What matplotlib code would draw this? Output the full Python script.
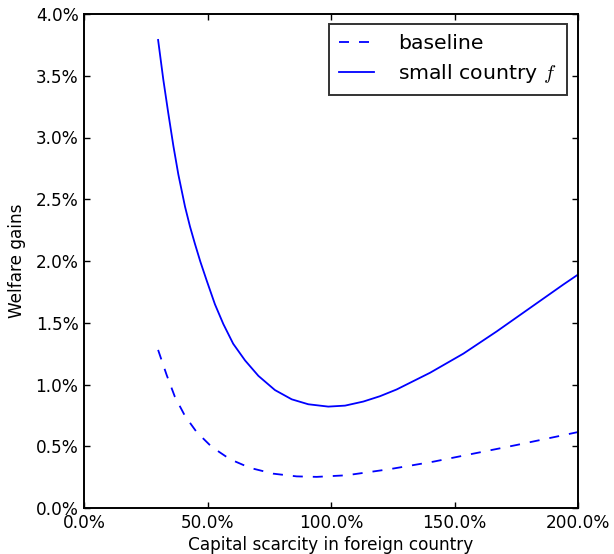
import matplotlib
matplotlib.use("Agg")
import matplotlib.pyplot as plt
from matplotlib.ticker import FuncFormatter, MultipleLocator

# Data (percent units)
solid_x = [30.0, 32.1, 34.1, 36.2, 38.2, 40.9, 42.9, 44.9, 47.1, 49.7, 53.0, 56.4,
           60.4, 65.2, 70.6, 77.3, 84.1, 90.8, 98.9, 105.7, 113.1, 119.8, 126.6,
           140.1, 153.6, 167.1, 180.6, 194.1, 200.0]
solid_y = [3.79, 3.47, 3.20, 2.93, 2.70, 2.44, 2.28, 2.14, 1.995, 1.84, 1.65, 1.49,
           1.33, 1.195, 1.07, 0.955, 0.88, 0.84, 0.821, 0.829, 0.862, 0.905, 0.96,
           1.095, 1.25, 1.43, 1.62, 1.81, 1.89]

base_x = [30.0, 33.5, 36.8, 40.9, 45.6, 51.7, 59.1, 67.2, 76.6, 86.1, 94.2, 106.3,
          123.9, 141.4, 157.6, 175.1, 195.8, 200.0]
base_y = [1.28, 1.075, 0.90, 0.745, 0.615, 0.495, 0.395, 0.325, 0.278, 0.256, 0.252,
          0.265, 0.315, 0.375, 0.44, 0.51, 0.597, 0.615]

labels = ["baseline", "small country $f$"]
xlabel = "Capital scarcity in foreign country"
ylabel = "Welfare gains"

FS = 12.2
LFS = FS * 1.2
plt.rcParams.update({
    "font.family": "DejaVu Sans",
    "font.size": FS,
    "mathtext.fontset": "cm",
    "xtick.direction": "in",
    "ytick.direction": "in",
    "xtick.top": True,
    "ytick.right": True,
    "xtick.major.size": 4.5,
    "ytick.major.size": 4.5,
    "xtick.major.width": 1.0,
    "ytick.major.width": 1.0,
})

fig = plt.figure(figsize=(6.14, 5.54), dpi=100)
fig.patch.set_facecolor("white")
W, H = 614, 554
ax = fig.add_axes([84 / W, 1 - 508 / H, (578 - 84) / W, (508 - 14) / H])

lw = 1.3
d = 10 / (lw * 100 / 72)
ax.plot(base_x, base_y, color="#0000ff", lw=lw, linestyle=(0, (d, d)), label=labels[0])
ax.plot(solid_x, solid_y, color="#0000ff", lw=lw, label=labels[1])

ax.set_xlim(0, 200)
ax.set_ylim(0, 4.0)
ax.xaxis.set_major_locator(MultipleLocator(50))
ax.yaxis.set_major_locator(MultipleLocator(0.5))
ax.xaxis.set_major_formatter(FuncFormatter(lambda v, p: "%.1f%%" % v))
ax.yaxis.set_major_formatter(FuncFormatter(lambda v, p: "%.1f%%" % v))
ax.tick_params(axis="x", pad=4, labelsize=FS)
ax.tick_params(axis="y", pad=4, labelsize=FS)
for s in ax.spines.values():
    s.set_linewidth(1.4)

ax.set_xlabel(xlabel, fontsize=FS, labelpad=3)
ax.set_ylabel(ylabel, fontsize=FS, labelpad=7)

leg = ax.legend(loc="upper right", bbox_to_anchor=((567 - 84) / 494, 1 - 10 / 494),
                borderaxespad=0, fontsize=LFS, frameon=True, fancybox=False,
                handlelength=1.7, handletextpad=1.2, borderpad=0.5, labelspacing=0.45)
leg.get_frame().set_edgecolor("black")
leg.get_frame().set_linewidth(1.4)

fig.savefig("out.png", dpi=100, facecolor="white")
